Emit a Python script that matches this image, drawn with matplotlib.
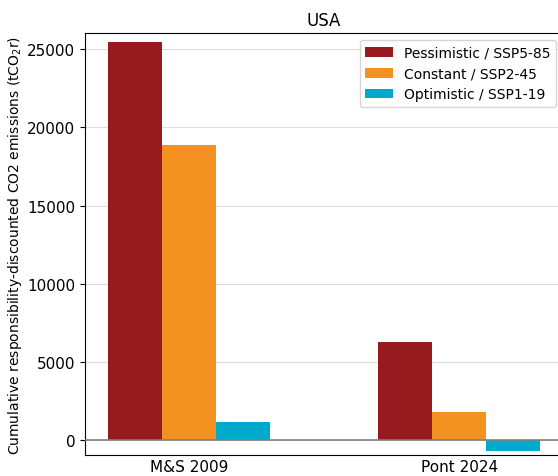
import numpy as np
import matplotlib
matplotlib.use('Agg')
from matplotlib import pyplot as plt

studies = ['M&S 2009', 'Pont 2024']
scenarios = ['Pessimistic / SSP5-85', 'Constant / SSP2-45', 'Optimistic / SSP1-19']
pessimistic = [25470, 6276]
constant = [18880, 1747]
optimistic = [1130, -720]
colors = ['#961a1e', '#f39220', '#00aacd']

plt.rcParams['font.size'] = 11

fig = plt.figure(figsize=(5.58, 4.77), dpi=100)
ax = fig.add_axes([0.1523, 0.0435, 0.8566, 0.885])

x = np.arange(len(studies))
width = 0.2
for i, (vals, label, color) in enumerate(zip([pessimistic, constant, optimistic], scenarios, colors)):
    ax.bar(x + (i - 1) * width, vals, width, color=color, label=label, zorder=3)

ax.axhline(0, color='gray', linewidth=1.2, zorder=4)
ax.yaxis.grid(True, color='#dddddd', linewidth=0.8, zorder=0)
ax.set_xticks(x)
ax.set_xticklabels(studies)
ax.tick_params(axis='x', length=0, pad=2.5)
ax.set_xlim(-0.384, 1.384)
ax.set_ylim(-995, 26046)
ax.set_ylabel('Cumulative responsibility-discounted CO2 emissions (tCO$_2$r)', fontsize=10,
              labelpad=2)
ax.set_title('USA', fontsize=12)
ax.legend(loc='upper right', fontsize=10, handlelength=2.0)

fig.savefig('out.png', dpi=100)
